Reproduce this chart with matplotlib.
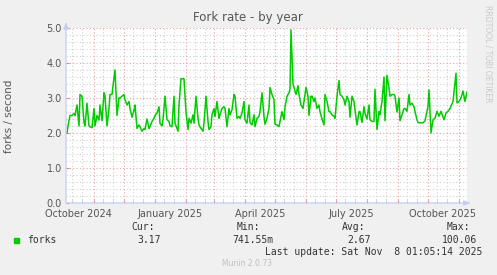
import pandas as pd
import matplotlib.pyplot as plt
import matplotlib.dates as mdates
from matplotlib.patches import Rectangle
from matplotlib.transforms import blended_transform_factory

start = "2024-10-04 01:05"
days = [1, 2, 4, 6, 8, 9, 11, 13, 14, 16,
        18, 19, 21, 23, 24, 26, 28, 29, 31, 33,
        34, 36, 38, 39, 41, 43, 44, 46, 47, 49,
        51, 53, 54, 56, 58, 59, 61, 63, 64, 66,
        68, 69, 71, 73, 74, 76, 78, 79, 81, 83,
        84, 86, 88, 89, 91, 93, 94, 96, 97, 99,
        101, 103, 104, 106, 108, 109, 111, 112, 113, 115,
        117, 118, 120, 122, 123, 125, 127, 128, 130, 132,
        133, 135, 137, 138, 140, 142, 143, 145, 146, 148,
        149, 151, 153, 154, 156, 158, 159, 161, 163, 164,
        166, 168, 169, 171, 173, 174, 176, 178, 179, 181,
        183, 184, 186, 188, 189, 191, 193, 194, 196, 198,
        199, 201, 203, 204, 206, 208, 209, 211, 213, 214,
        216, 218, 219, 221, 223, 224, 225, 227, 228, 230,
        232, 233, 235, 237, 238, 240, 242, 243, 245, 246,
        248, 249, 251, 253, 254, 256, 258, 259, 261, 263,
        264, 266, 268, 269, 271, 273, 274, 276, 278, 279,
        281, 283, 284, 286, 288, 289, 291, 293, 294, 296,
        298, 299, 301, 303, 304, 306, 308, 309, 311, 313,
        314, 316, 318, 319, 321, 323, 324, 326, 328, 329,
        331, 333, 334, 336, 338, 339, 341, 343, 344, 346,
        348, 349, 351, 352, 354, 357, 359, 362, 363, 365,
        367, 369, 371, 373, 375, 378, 380, 382, 384, 387,
        390, 391, 393, 395, 397, 399, 401]
forks = [2.0, 2.2, 2.5, 2.5, 2.55, 2.5, 2.8, 2.2, 3.1, 3.05,
         2.3, 2.2, 2.85, 2.2, 2.18, 2.15, 2.7, 2.2, 2.5, 2.37,
         2.8, 2.35, 3.15, 3.05, 2.2, 2.7, 3.1, 3.1, 3.35, 3.8,
         2.5, 3.0, 3.0, 3.05, 3.1, 2.95, 2.8, 2.9, 2.7, 2.45,
         2.65, 2.8, 2.13, 2.23, 2.18, 2.05, 2.13, 2.1, 2.4, 2.13,
         2.18, 2.33, 2.42, 2.5, 2.57, 2.75, 2.28, 2.2, 2.38, 3.05,
         2.38, 2.33, 2.2, 2.18, 3.05, 2.28, 2.13, 2.05, 2.8, 3.55,
         3.55, 3.55, 2.6, 2.1, 2.42, 2.28, 2.52, 2.28, 3.05, 2.42,
         2.23, 2.13, 2.05, 2.28, 3.05, 2.33, 2.1, 2.18, 2.52, 2.7,
         2.47, 2.9, 2.42, 2.52, 2.7, 2.75, 2.7, 2.18, 2.7, 2.52,
         2.66, 3.1, 3.05, 2.42, 2.47, 2.42, 2.57, 2.9, 2.38, 2.28,
         2.8, 2.3, 2.23, 2.52, 2.18, 2.42, 2.47, 2.61, 3.15, 2.47,
         2.25, 2.42, 2.7, 3.3, 3.1, 2.95, 2.25, 2.23, 2.18, 2.33,
         2.61, 2.38, 2.75, 3.05, 3.15, 3.25, 4.95, 3.4, 3.3, 3.1,
         3.35, 3.1, 2.8, 2.7, 2.9, 3.3, 3.05, 2.5, 3.05, 3.05,
         2.9, 3.0, 2.7, 2.8, 2.61, 2.4, 2.23, 3.1, 2.9, 2.61,
         2.61, 2.52, 2.47, 2.42, 3.05, 3.5, 3.1, 3.05, 2.95, 2.8,
         3.05, 2.9, 2.45, 3.05, 2.9, 2.66, 2.23, 2.61, 2.61, 2.3,
         2.75, 2.57, 2.4, 2.8, 2.38, 2.33, 2.33, 3.25, 2.1, 2.61,
         2.52, 2.9, 3.6, 2.35, 3.65, 3.28, 3.05, 3.1, 3.1, 3.05,
         2.6, 3.0, 2.35, 2.52, 2.7, 2.7, 2.62, 3.1, 2.8, 2.85,
         2.75, 2.61, 2.38, 2.3, 2.29, 2.29, 2.35, 2.76, 3.23, 2.0,
         2.38, 2.42, 2.62, 2.48, 2.62, 2.38, 2.57, 2.62, 2.7, 2.9,
         3.71, 2.86, 2.9, 3.0, 3.2, 2.9, 3.17]

x_labels = ["October 2024", "January 2025", "April 2025", "July 2025", "October 2025"]
x_label_dates = ["2024-10-16", "2025-01-16", "2025-04-16", "2025-07-16", "2025-10-16"]

legend_name = "forks"
stats_heads = ["Cur:", "Min:", "Avg:", "Max:"]
stats_vals = ["3.17", "741.55m", "2.67", "100.06"]

t0 = pd.Timestamp(start)
dates = t0 + pd.to_timedelta(days, unit="D")

W, H = 497, 275
fig = plt.figure(figsize=(W / 100, H / 100), dpi=100, facecolor="#f0f0f0")
ax = fig.add_axes([66 / W, (H - 203) / H, 401 / W, 175 / H])
ax.set_facecolor("white")

ax.plot(dates, forks, color="#00cc00", linewidth=1.1, zorder=3)

ax.set_xlim(t0, t0 + pd.Timedelta(days=401))
ax.set_ylim(0, 5)

# grid: red dotted on major, grey dotted on minor
ax.xaxis.set_major_locator(mdates.MonthLocator())
ax.xaxis.set_minor_locator(mdates.DayLocator(bymonthday=[10, 20]))
ax.yaxis.set_major_locator(plt.MultipleLocator(1.0))
ax.yaxis.set_minor_locator(plt.MultipleLocator(0.2))
ax.grid(which="major", color="#e8a0a0", linestyle=(0, (1, 2)), linewidth=0.8)
ax.grid(which="minor", color="#d0d0d0", linestyle=(0, (1, 2)), linewidth=0.8)
ax.set_axisbelow(True)

ax.tick_params(axis="x", which="both", labelbottom=False, length=2, direction="in")
ax.tick_params(axis="x", which="major", color="#e08080")
ax.tick_params(axis="x", which="minor", color="#c0c0c0")
ax.tick_params(axis="y", which="major", length=2, direction="in", color="#e08080",
               labelsize=7, labelcolor="#555555", pad=3)
ax.tick_params(axis="y", which="minor", length=0)
ax.yaxis.set_major_formatter(plt.FormatStrFormatter("%.1f"))

for s in ax.spines.values():
    s.set_visible(False)

# axis lines with arrows
axis_col = "#c4cdf5"
ax.annotate("", xy=(0, 1.035), xytext=(0, 0), xycoords="axes fraction",
            arrowprops=dict(arrowstyle="-|>,head_width=0.15,head_length=0.4",
                            color=axis_col, lw=0.9, shrinkA=0, shrinkB=0))
ax.annotate("", xy=(1.01, 0), xytext=(0, 0), xycoords="axes fraction",
            arrowprops=dict(arrowstyle="-|>,head_width=0.15,head_length=0.4",
                            color=axis_col, lw=0.9, shrinkA=0, shrinkB=0))

trans = blended_transform_factory(ax.transData, ax.transAxes)
for lab, d in zip(x_labels, x_label_dates):
    ax.text(pd.Timestamp(d), -0.035, lab, transform=trans, ha="center", va="top",
            fontsize=7, color="#555555")

fig.text(248 / W, 1 - 18 / H, "Fork rate - by year", ha="center", va="center",
         fontsize=8.5, color="#555555")
fig.text(9 / W, 1 - 116 / H, "forks / second", rotation=90, ha="center", va="center",
         fontsize=7.5, color="#555555")
fig.text(488 / W, 1 - 5 / H, "RRDTOOL / TOBI OETIKER", rotation=270, ha="center",
         va="top", fontsize=5.5, color="#c8c8c8")

# legend block
mono = "DejaVu Sans Mono"
fig.patches.append(Rectangle((14 / W, 1 - 243 / H), 5 / W, 5 / H,
                             transform=fig.transFigure, color="#00cc00"))
fig.text(27 / W, 1 - 240 / H, legend_name, ha="left", va="center",
         fontsize=7, color="#333333", family=mono)
head_right = [155, 260, 365, 470]
val_right = [161, 273, 371, 477]
for h, v, hx, vx in zip(stats_heads, stats_vals, head_right, val_right):
    fig.text(hx / W, 1 - 227 / H, h, ha="right", va="center", fontsize=7,
             color="#333333", family=mono)
    fig.text(vx / W, 1 - 240 / H, v, ha="right", va="center", fontsize=7,
             color="#333333", family=mono)
fig.text(482 / W, 1 - 252 / H, "Last update: Sat Nov  8 01:05:14 2025", ha="right",
         va="center", fontsize=7, color="#333333", family=mono)
fig.text(247 / W, 1 - 263 / H, "Munin 2.0.73", ha="center", va="center",
         fontsize=5.5, color="#c0c0c0")

fig.savefig("out.png", dpi=100, facecolor=fig.get_facecolor())
